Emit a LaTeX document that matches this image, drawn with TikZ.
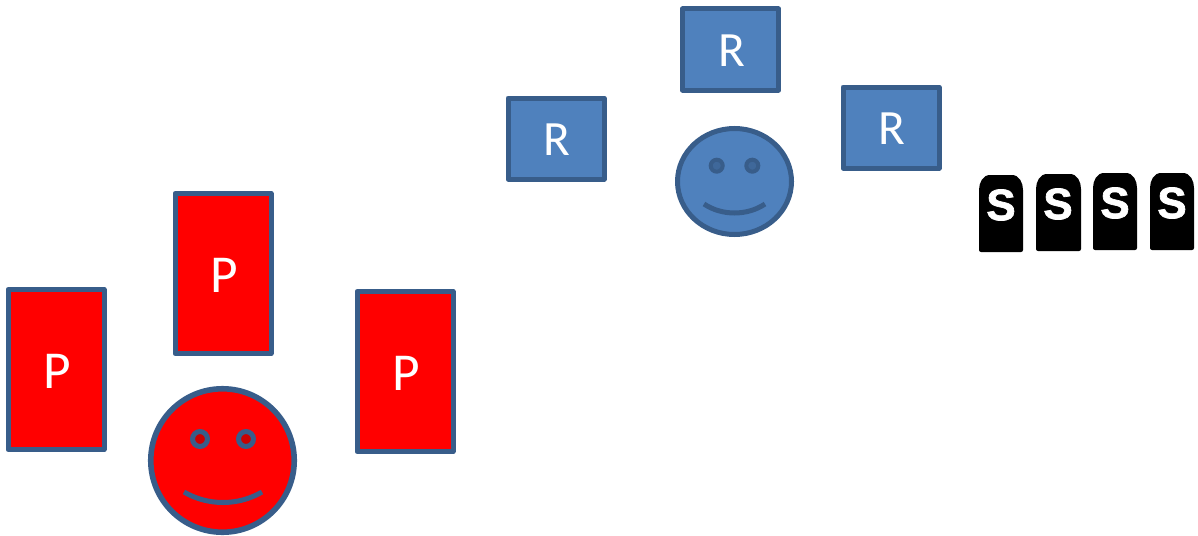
\documentclass[tikz,border=0pt]{standalone}
\usepackage{fontspec}
\setmainfont{Carlito}
\newfontfamily\stonefont{Liberation Sans}[BoldFeatures={FakeBold=1.6}]
\definecolor{edgeblue}{HTML}{385D8A}
\definecolor{fillblue}{HTML}{4F81BD}
\definecolor{eyeblue}{HTML}{3F689A}
\definecolor{eyered}{HTML}{CC0000}
\tikzset{
  box/.style={draw=edgeblue,line width=3.75pt,line join=round,text=white,inner sep=0pt,execute at begin node=\hspace*{1.5pt}},
  redbox/.style={box,fill=red,minimum width=72pt,minimum height=120pt,font=\fontsize{40}{43}\selectfont,text height=28pt},
  bluebox/.style={box,fill=fillblue,minimum width=72pt,minimum height=60.75pt,font=\fontsize{37}{40}\selectfont,text height=25.3pt},
  faceline/.style={draw=edgeblue,line width=3.75pt},
  stone/.style={fill=black,draw=none},
  stoneletter/.style={text=white,inner sep=0pt,font=\stonefont\bfseries\fontsize{33}{36}\selectfont}
}
\newcommand{\stoneshape}[3]{%
  \fill[stone] (#1+2,#3+77) to[out=180,in=-90] (#1,#3+75) -- (#1,#3+15) to[out=90,in=180] (#1+11,#3) -- (#2-11,#3) to[out=0,in=90] (#2,#3+15) -- (#2,#3+75) to[out=-90,in=0] (#2-2,#3+77) -- cycle;}
\begin{document}
\begin{tikzpicture}[x=0.75pt,y=-0.75pt]
\useasboundingbox (0,0) rectangle (1198,535);
% red group
\node[redbox] (p1) at (223,273.5) {P};
\node[redbox] (p2) at (56,369.5) {P};
\node[redbox] (p3) at (405,371.5) {P};
\draw[faceline,fill=red,line width=4.2pt] (222.5,460.5) circle [radius=53.8pt];
\draw[faceline,fill=eyered] (200,439) circle [radius=5.6pt];
\draw[faceline,fill=eyered] (246,439) circle [radius=5.6pt];
\draw[faceline] (184,492) .. controls (208,506) and (238,506) .. (262,492);
% blue group
\node[bluebox] (r1) at (730.5,49.5) {R};
\node[bluebox] (r2) at (556,138.5) {R};
\node[bluebox] (r3) at (891,127.5) {R};
\draw[faceline,fill=fillblue] (734.5,181.5) ellipse [x radius=42.75pt,y radius=39.75pt];
\draw[faceline,fill=eyeblue,line width=3pt] (716.7,165.7) circle [radius=4.5pt];
\draw[faceline,fill=eyeblue,line width=3pt] (752.3,165.7) circle [radius=4.5pt];
\draw[faceline] (704,204) .. controls (722,216) and (747,216) .. (765,204);
% stones
\stoneshape{979}{1023}{175}
\stoneshape{1036}{1081}{174}
\stoneshape{1093}{1137}{173}
\stoneshape{1150}{1194}{173}
\node[stoneletter] (s1) at (1001,205) {S};
\node[stoneletter] (s2) at (1058,204) {S};
\node[stoneletter] (s3) at (1115,203) {S};
\node[stoneletter] (s4) at (1172,203) {S};
\end{tikzpicture}
\end{document}
